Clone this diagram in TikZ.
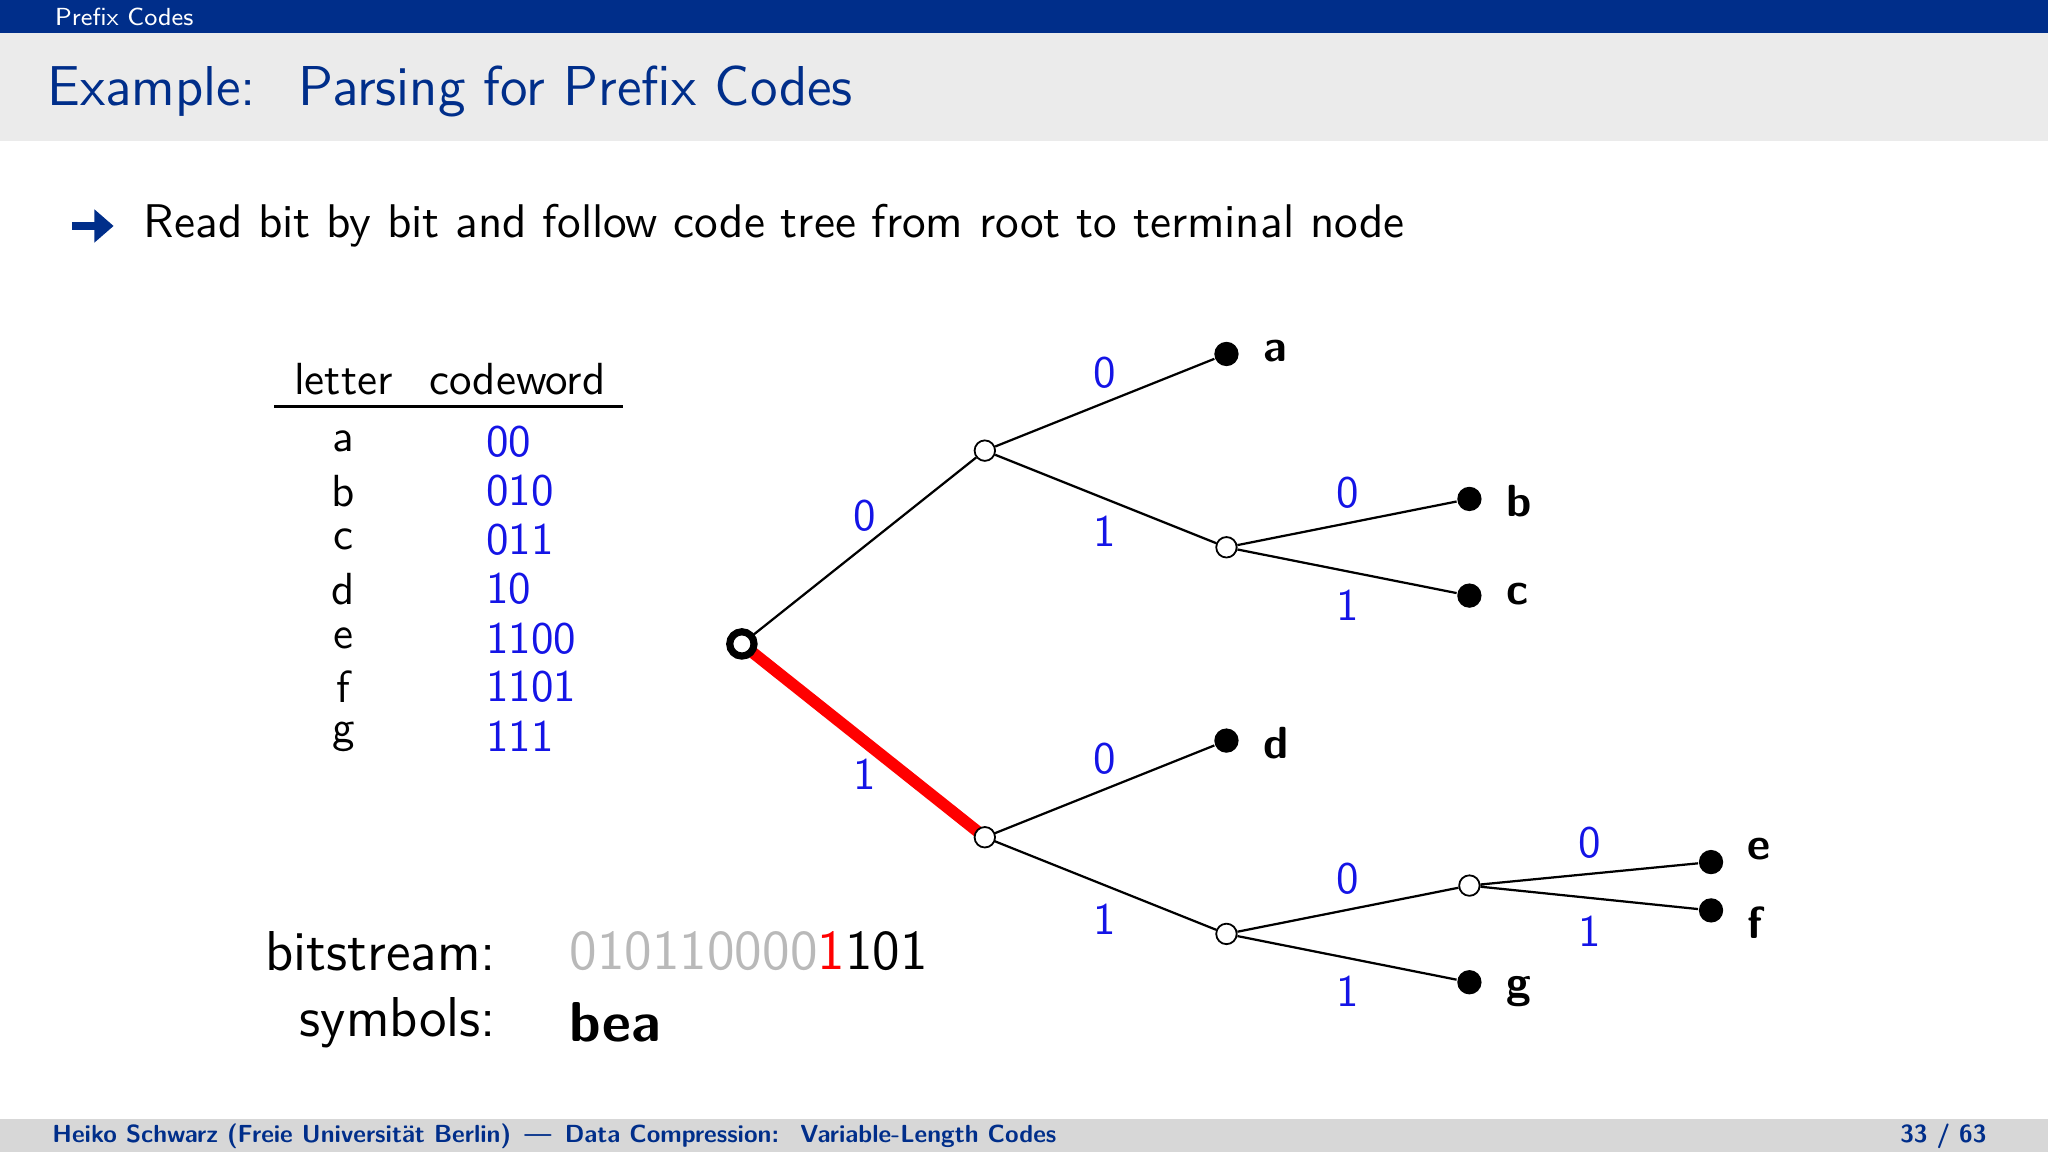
\documentclass[tikz,border=0pt]{standalone}
\usepackage{xcolor}
\usetikzlibrary{arrows.meta}
\definecolor{bdark}{RGB}{0,46,138}
\definecolor{tblue}{RGB}{20,20,230}
\definecolor{lgray}{RGB}{235,235,235}
\definecolor{fgray}{RGB}{215,215,215}
\definecolor{bgray}{RGB}{185,185,185}
\begin{document}
\begin{tikzpicture}[x=0.010204cm,y=-0.010204cm,font=\sffamily,
  inner/.style={circle,draw,fill=white,inner sep=0pt,minimum size=0.16cm},
  leaf/.style={circle,fill=black,inner sep=0pt,minimum size=0.19cm},
  lbl/.style={text=tblue,font=\sffamily\fontsize{10}{12}\selectfont},
  ll/.style={font=\sffamily\bfseries\fontsize{10}{12}\selectfont,anchor=west},
  tt/.style={font=\sffamily\fontsize{10}{12}\selectfont}]
\useasboundingbox (0,0) rectangle (1568,882);
\fill[white] (0,0) rectangle (1568,882);
\fill[bdark] (0,0) rectangle (1568,25);
\node[anchor=west,text=white,font=\sffamily\fontsize{5.5}{6}\selectfont] (top) at (30,13) {Prefix Codes};
\fill[lgray] (0,25) rectangle (1568,108);
\node[anchor=west,text=bdark,font=\sffamily\fontsize{12.5}{14}\selectfont] (title) at (24,70) {Example: \ Parsing for Prefix Codes};
\coordinate (arr0) at (55,173);
\coordinate (arr1) at (87,173);
\draw[bdark,line width=1.8pt,-{Triangle[length=0.15cm,width=0.25cm]}] (arr0) -- (arr1);
\node[anchor=west,font=\sffamily\fontsize{10.5}{12}\selectfont] (bul) at (98,173) {Read bit by bit and follow code tree from root to terminal node};
% table
\node[tt] (h1) at (263,290) {letter};
\node[tt] (h2) at (396,290) {codeword};
\draw[line width=0.6pt] (210,311) -- (477,311);
\foreach \l/\c/\y in {a/00/338,b/010/376,c/011/413,d/10/451,e/1100/489,f/1101/526,g/111/564}{
  \node[tt] at (263,\y) {\l};
  \node[tt,text=tblue,anchor=west] at (360,\y) {\c};
}
% tree
\coordinate (r) at (568,493);
\node[inner] (n0) at (754,345) {};
\coordinate (n1) at (754,641);
\node[leaf] (a) at (939,271) {};
\node[inner] (n01) at (939,419) {};
\node[leaf] (b) at (1125,382) {};
\node[leaf] (c) at (1125,456) {};
\node[leaf] (d) at (939,567) {};
\node[inner] (n11) at (939,715) {};
\node[inner] (n110) at (1125,678) {};
\node[leaf] (g) at (1125,752) {};
\node[leaf] (e) at (1310,660) {};
\node[leaf] (f) at (1310,697) {};
\draw[line width=0.5pt] (r) -- (n0) (n0)--(a) (n0)--(n01) (n01)--(b) (n01)--(c)
 (n1)--(d) (n1)--(n11) (n11)--(n110) (n11)--(g) (n110)--(e) (n110)--(f);
\draw[red,line width=2.6pt] (r) -- (n1);
\node[circle,draw,line width=1.6pt,fill=white,inner sep=0pt,minimum size=0.19cm] (rn) at (r) {};
\node[inner] (n1n) at (n1) {};
\foreach \t/\x/\y in {0/662/395,1/662/593,0/846/285,1/846/407,0/1032/377,1/1032/463,0/846/581,1/846/704,0/1032/673,1/1032/759,0/1217/645,1/1217/713}
  \node[lbl] at (\x,\y) {\t};
\node[ll] (la) at (955,269) {a};
\node[ll] (lb) at (1141,384) {b};
\node[ll] (lc) at (1141,455) {c};
\node[ll] (ld) at (955,569) {d};
\node[ll] (le) at (1326,650) {e};
\node[ll] (lf) at (1326,706) {f};
\node[ll] (lg) at (1141,759) {g};
% bitstream
\node[anchor=east,font=\sffamily\fontsize{12.5}{14}\selectfont] (bs) at (392,728) {bitstream:};
\node[anchor=west,font=\sffamily\fontsize{12.5}{14}\selectfont] (bits) at (424,728) {\textcolor{bgray}{010110000}\textcolor{red}{1}101};
\node[anchor=east,font=\sffamily\fontsize{12.5}{14}\selectfont] (sy) at (392,783) {symbols:};
\node[anchor=west,font=\sffamily\bfseries\fontsize{12.5}{14}\selectfont] (bea) at (424,783) {bea};
% footer
\fill[fgray] (0,857) rectangle (1568,882);
\node[anchor=west,text=bdark,font=\sffamily\bfseries\fontsize{5.5}{6}\selectfont] (ft) at (28,870) {Heiko Schwarz (Freie Universit\"at Berlin) \,---\, Data Compression: \ Variable-Length Codes};
\node[anchor=east,text=bdark,font=\sffamily\bfseries\fontsize{5.5}{6}\selectfont] (pg) at (1533,870) {33 / 63};
\end{tikzpicture}
\end{document}
